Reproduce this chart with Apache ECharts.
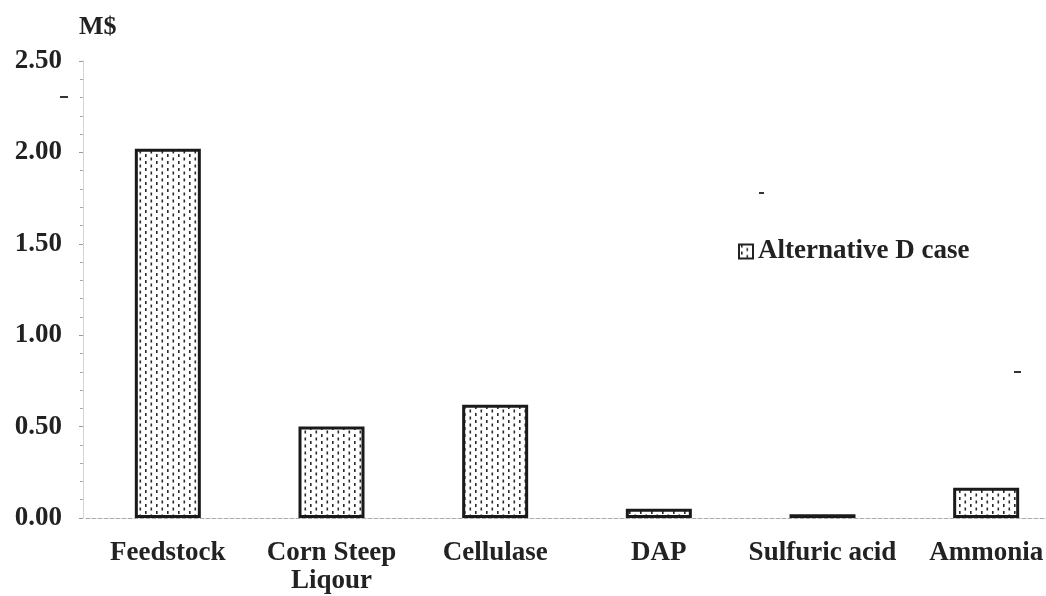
<!DOCTYPE html>
<html>
<head>
<meta charset="utf-8">
<script src="https://cdn.jsdelivr.net/npm/echarts@6/dist/echarts.min.js"></script>
<style>
  html, body { margin: 0; padding: 0; background: #fff; overflow: hidden; width: 1046px; height: 596px; }
  #chart { width: 1068px; height: 596px; }
</style>
</head>
<body>
<div id="chart"></div>
<script>
// Annual raw material cost by item (million US$)
const categories = ['Feedstock', 'Corn Steep\nLiqour', 'Cellulase', 'DAP', 'Sulfuric acid', 'Ammonia'];
const costValues = [2.02, 0.50, 0.62, 0.05, 0.02, 0.165];
const seriesName = 'Alternative D case';
const yTicks = { min: 0, max: 2.5, interval: 0.5 };

// Stippled fill: small dark dots on white, staggered rows
function makeDotPattern() {
  const c = document.createElement('canvas');
  c.width = 11; c.height = 7;
  const g = c.getContext('2d');
  g.fillStyle = '#fff';
  g.fillRect(0, 0, 11, 7);
  g.fillStyle = '#2a2a2a';
  g.fillRect(2, 0, 1.6, 3);
  g.fillRect(7.5, 3.5, 1.6, 3);
  return c;
}
const dots = makeDotPattern();

const font = '"Liberation Serif", "Times New Roman", serif';
const fs = 27;
const chart = echarts.init(document.getElementById('chart'));

chart.setOption({
  backgroundColor: '#fff',
  animation: false,
  textStyle: { fontFamily: font },
  grid: { left: 86, top: 61, right: 0, bottom: 78, containLabel: false },
  legend: {
    left: 733, top: 233,
    itemWidth: 14, itemHeight: 14,
    itemGap: 5,
    textStyle: { fontFamily: font, fontWeight: 'bold', fontSize: fs, color: '#222' },
    data: [{ name: seriesName, icon: 'rect', itemStyle: { borderColor: '#222', borderWidth: 2 } }]
  },
  graphic: [
    {
      type: 'text', left: 79, top: 14,
      style: { text: 'M$', font: 'bold 26px ' + font, fill: '#222' }
    },
    { type: 'rect', shape: { x: 60, y: 96, width: 8, height: 2 }, style: { fill: '#333' } },
    { type: 'rect', shape: { x: 759, y: 192, width: 5, height: 2 }, style: { fill: '#333' } },
    { type: 'rect', shape: { x: 1014, y: 371, width: 7, height: 2 }, style: { fill: '#333' } }
  ],
  xAxis: {
    type: 'category',
    data: categories,
    axisLine: { show: true, lineStyle: { color: '#aaa', type: 'dashed', width: 1 } },
    axisTick: { show: false },
    axisLabel: {
      interval: 0, margin: 21,
      fontFamily: font, fontWeight: 'bold', fontSize: fs, color: '#222',
      lineHeight: 28
    },
    splitLine: { show: false }
  },
  yAxis: {
    type: 'value',
    min: yTicks.min, max: yTicks.max, interval: yTicks.interval,
    offset: 3,
    axisLine: { show: true, lineStyle: { color: '#ccc', type: 'dotted', width: 1 } },
    axisTick: { show: true, length: 4, inside: false, lineStyle: { color: '#999' } },
    minorTick: { show: true, splitNumber: 5, length: 3, lineStyle: { color: '#aaa' } },
    axisLabel: {
      margin: 21,
      fontFamily: font, fontWeight: 'bold', fontSize: fs, color: '#222',
      formatter: v => v.toFixed(2)
    },
    splitLine: { show: false }
  },
  series: [{
    name: seriesName,
    type: 'bar',
    data: costValues,
    barWidth: 66,
    itemStyle: {
      color: { image: dots, repeat: 'repeat' },
      borderColor: '#1a1a1a',
      borderWidth: 3
    }
  }]
});
</script>
</body>
</html>
